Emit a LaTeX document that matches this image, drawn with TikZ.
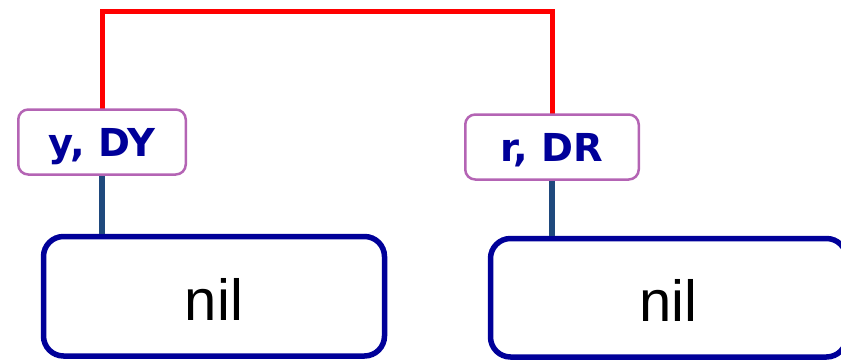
\documentclass[tikz,border=0pt]{standalone}
\usepackage{fontspec}
\setmainfont{DejaVu Sans}
\newfontfamily\cellfont{Liberation Sans}
\definecolor{navy}{RGB}{0,0,153}
\definecolor{tagpurple}{RGB}{180,100,180}
\definecolor{stemblue}{RGB}{31,73,125}
\begin{document}
\begin{tikzpicture}[x=1pt,y=-1pt,
  tag/.style={draw=tagpurple, line width=2.5pt, rounded corners=10pt, fill=white,
    inner sep=0pt, text=navy, font=\bfseries\fontsize{38.5}{40}\selectfont,
    text height=28pt, text depth=0pt, minimum height=65pt},
  cell/.style={draw=navy, line width=5.5pt, rounded corners=20pt, inner sep=0pt,
    font=\cellfont\fontsize{58}{60}\selectfont, text height=48pt, text depth=0pt},
  wire/.style={draw=red, line width=5pt},
  stem/.style={draw=stemblue, line width=6pt}
]
\useasboundingbox (0,0) rectangle (841,359);
\clip (0,0) rectangle (841,359);

% list cells
\node[cell, minimum width=341pt, minimum height=119.5pt] (lnil) at (214,296.25) {nil};
\node[cell, minimum width=356pt, minimum height=118.5pt] (rnil) at (668.5,297.75) {nil};

% red link between the two tags
\draw[wire] (102,142) -- (102,11.5) -| (552,147);

% tags
\node[tag, minimum width=167.5pt] (ly) at (102,142) {y, DY};
\node[tag, minimum width=173.5pt] (rr) at (552,147) {r, DR};

% stems from tags down to cells
\draw[stem] (ly.south) -- (ly.south |- lnil.north);
\draw[stem] (rr.south) -- (rr.south |- rnil.north);
\end{tikzpicture}
\end{document}
